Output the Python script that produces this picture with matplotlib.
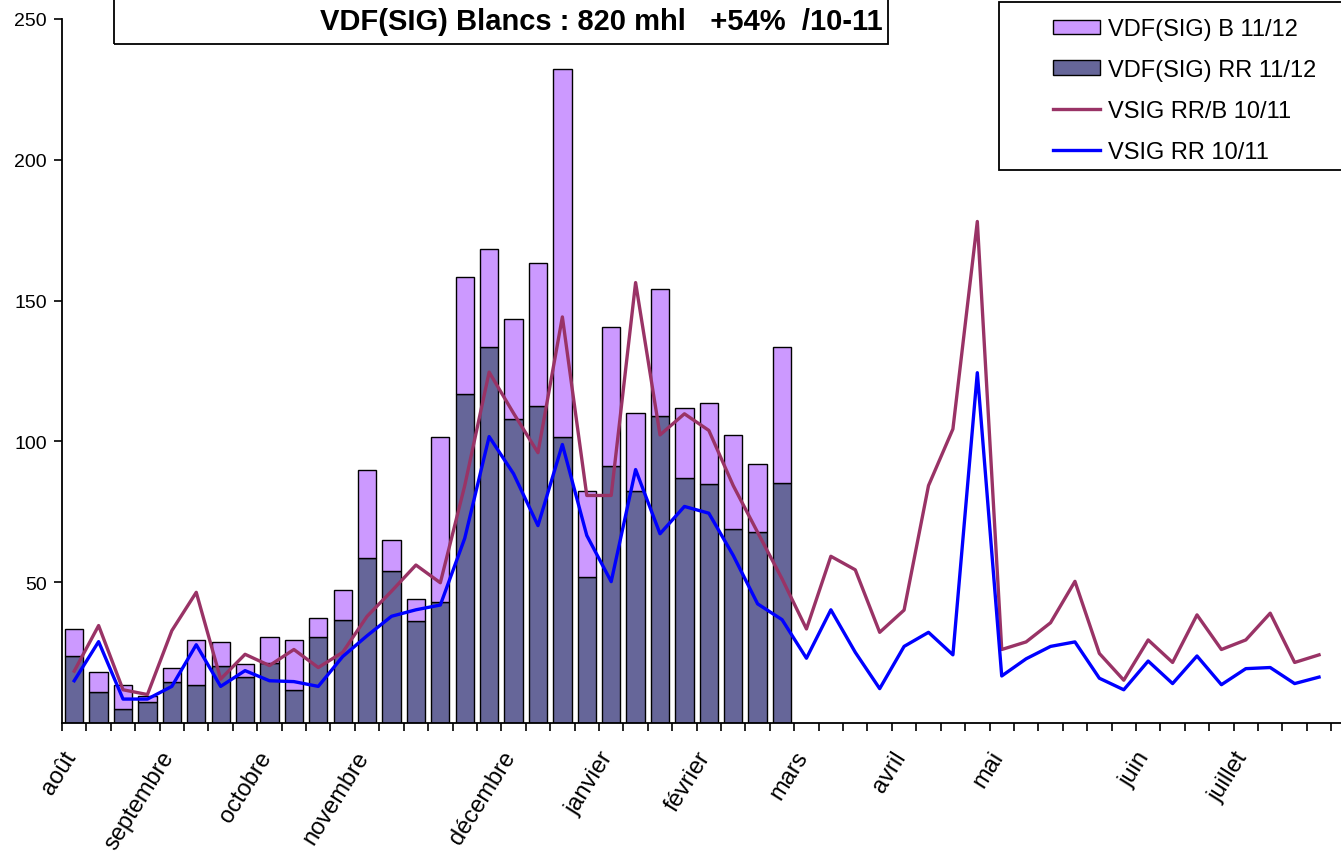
import matplotlib
matplotlib.use("Agg")
import matplotlib.pyplot as plt
import matplotlib.transforms as mtransforms
import numpy as np
from matplotlib.patches import Rectangle

plt.rcParams['font.family'] = ['Liberation Sans', 'DejaVu Sans']

# 52 semaines, d'août à juillet
mois = {0: 'août', 4: 'septembre', 8: 'octobre', 12: 'novembre', 18: 'décembre',
        22: 'janvier', 26: 'février', 30: 'mars', 34: 'avril', 38: 'mai',
        44: 'juin', 48: 'juillet'}

# barres 11/12 (30 semaines)
rr_1112 = [23.7, 11.1, 5.0, 7.6, 14.7, 13.5, 20.4, 16.2, 21.3, 11.7, 30.4, 36.7, 58.6, 53.8, 36.1,
           42.9, 116.9, 133.4, 108.0, 112.5, 101.7, 51.9, 91.4, 82.3, 109.1, 87.1, 84.8, 68.8, 67.9, 85.3]
b_1112 = [9.7, 6.9, 8.5, 2.1, 5.0, 15.8, 8.3, 4.6, 9.1, 17.6, 6.8, 10.7, 31.4, 11.1, 8.0,
          58.8, 41.4, 35.0, 35.6, 50.9, 130.7, 30.4, 49.2, 27.9, 45.1, 24.7, 28.8, 33.3, 24.1, 48.1]

# courbes 10/11 (52 semaines)
rrb_1011 = [18.4, 34.6, 11.8, 10.1, 32.8, 46.4, 15.6, 24.4, 20.4, 26.1, 19.7, 25.1, 37.9, 46.8, 56.1, 49.8,
            84.3, 124.6, 110.0, 96.0, 144.2, 80.8, 80.8, 156.4, 102.3, 109.8, 103.9, 84.3, 67.7, 51.2, 33.4, 59.2,
            54.4, 32.2, 40.1, 84.3, 104.4, 178.1, 26.1, 28.8, 35.6, 50.3, 24.7, 15.2, 29.5, 21.5, 38.4, 26.1,
            29.5, 39.0, 21.5, 24.2]
rr_1011 = [15.0, 28.9, 8.5, 8.5, 13.0, 27.8, 13.0, 18.6, 15.0, 14.7, 13.0, 23.6, 31.0, 37.9, 40.2, 41.9,
           65.6, 101.7, 88.5, 70.1, 98.9, 66.6, 50.2, 90.0, 67.2, 76.9, 74.5, 59.5, 42.3, 36.7, 23.0, 40.2,
           25.1, 12.2, 27.2, 32.2, 24.2, 124.4, 16.7, 22.8, 27.2, 28.8, 15.9, 11.8, 22.0, 14.0, 23.8, 13.6,
           19.3, 19.7, 14.0, 16.3]

W, H = 1341, 853
fig = plt.figure(figsize=(W / 100, H / 100), dpi=100)
ax = fig.add_axes([62 / W, 1 - 724 / H, (1341 - 62) / W, (724 - 20) / H])

xb = np.arange(len(rr_1112))
xl = np.arange(len(rr_1011))

b_rr = ax.bar(xb, rr_1112, width=0.75, color='#666699', edgecolor='black', linewidth=1.0, zorder=2)
b_b = ax.bar(xb, b_1112, width=0.75, bottom=rr_1112, color='#CC99FF', edgecolor='black',
             linewidth=1.0, zorder=2)
l_rrb, = ax.plot(xl, rrb_1011, color='#993366', lw=2.4, zorder=3)
l_rr, = ax.plot(xl, rr_1011, color='#0000FF', lw=2.4, zorder=4)

ax.set_xlim(-0.5, 51.9)
ax.set_ylim(0, 250)
ax.set_yticks([50, 100, 150, 200, 250])
for s in ['top', 'right']:
    ax.spines[s].set_visible(False)
ax.spines['left'].set_linewidth(1.3)
ax.spines['bottom'].set_linewidth(1.3)
ax.tick_params(axis='y', direction='out', length=6, width=1.2, labelsize=14, pad=5)

# traits aux limites des semaines, noms des mois au centre
ax.set_xticks(np.arange(-0.5, 52, 1))
ax.tick_params(axis='x', which='major', direction='out', length=6, width=1.2, labelbottom=False)
trans = mtransforms.blended_transform_factory(ax.transData, ax.transAxes) + \
    mtransforms.ScaledTranslation(2 / 100, -33 / 100, fig.dpi_scale_trans)
for k, nom in mois.items():
    ax.text(k, 0, nom, transform=trans, rotation=58, ha='right', va='baseline',
            rotation_mode='anchor', fontsize=17)

# cadre du titre
fig.patches.append(Rectangle((114 / W, 1 - 45 / H), (888 - 114) / W, 60 / H,
                             transform=fig.transFigure, fill=False, edgecolor='black', lw=1.3))
fig.text(883 / W, 1 - 30 / H, 'VDF(SIG) Blancs : 820 mhl   +54%  /10-11',
         ha='right', va='baseline', fontsize=21, fontweight='bold')

# légende
fig.patches.append(Rectangle((999 / W, 1 - 171 / H), 360 / W, 168 / H,
                             transform=fig.transFigure, fill=True, facecolor='white',
                             edgecolor='black', lw=1.3, zorder=5))
leg = fig.legend([b_b, b_rr, l_rrb, l_rr],
                 ['VDF(SIG) B 11/12', 'VDF(SIG) RR 11/12', 'VSIG RR/B 10/11', 'VSIG RR 10/11'],
                 loc='upper left', bbox_to_anchor=(1053 / W, 1 - 19 / H), frameon=False,
                 fontsize=17, borderaxespad=0, borderpad=0,
                 handlelength=2.0, handleheight=0.55, handletextpad=0.35, labelspacing=0.8)
leg.set_zorder(6)

fig.savefig('out.png', dpi=100)
